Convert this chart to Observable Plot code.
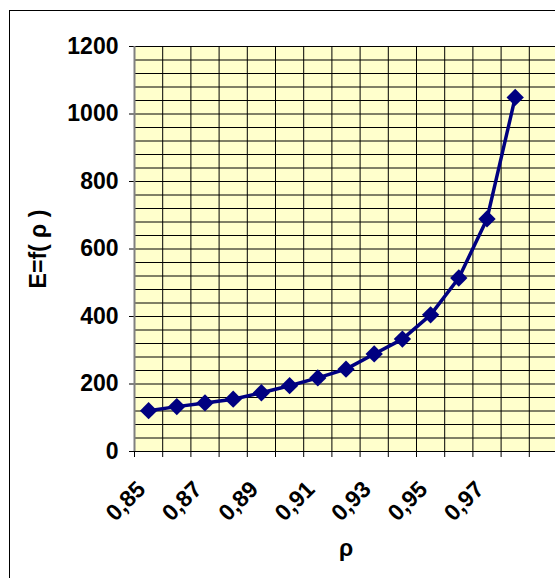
<!DOCTYPE html>
<html>
<head>
<meta charset="utf-8">
<script src="https://cdn.jsdelivr.net/npm/d3@7"></script>
<script src="https://cdn.jsdelivr.net/npm/@observablehq/plot@0.6"></script>
<style>
  body { margin: 0; background: #fff; overflow: hidden; }
  #wrap { position: relative; width: 555px; height: 578px; overflow: hidden; }
  #border { position: absolute; left: 9px; top: 10px; width: 800px; height: 800px;
            border: 1px solid #000; pointer-events: none; }
  #wrap svg { position: absolute; left: 0; top: 0; }
</style>
</head>
<body>
<div id="wrap"><div id="border"></div></div>
<script>
// Density ρ and the resulting E = f(ρ)
const rho    = [0.85, 0.86, 0.87, 0.88, 0.89, 0.90, 0.91, 0.92, 0.93, 0.94, 0.95, 0.96, 0.97, 0.98];
const energy = [121, 133, 144, 155, 174, 195, 218, 244, 289, 333, 405, 514, 689, 1049];

// Axis ticks and titles
const yTicks = [0, 200, 400, 600, 800, 1000, 1200];
const xLabelTicks = [0.85, 0.87, 0.89, 0.91, 0.93, 0.95, 0.97];
const xTitle = "ρ";
const yTitle = "E=f( ρ )";

// Category slots 0.85 … 0.99, each 0.01 wide; boundaries carry grid lines and ticks
const xDomain = [0.845, 0.995];
const slotEdges = d3.range(0, 16).map(i => +(0.845 + i * 0.01).toFixed(3));
const yGrid = d3.range(0, 1201, 40);

const data = rho.map((r, i) => ({rho: r, E: energy[i]}));
const comma = d => d.toFixed(2).replace(".", ",");

const navy = "#000080";

const chart = Plot.plot({
  width: 555,
  height: 578,
  marginLeft: 134,
  marginTop: 46,
  marginBottom: 127,
  marginRight: -2,
  style: {
    fontFamily: "'Liberation Sans', Arial, sans-serif",
    fontSize: "23px",
    fontWeight: "bold",
    color: "#000",
    background: "transparent",
    overflow: "visible"
  },
  x: {domain: xDomain, ticks: slotEdges, tickSize: 6, tickFormat: () => "", label: null},
  y: {domain: [0, 1200], ticks: yTicks, tickSize: 5, tickPadding: 11, tickFormat: d => String(d), label: null},
  marks: [
    Plot.frame({fill: "#ffffcc"}),
    Plot.ruleY(yGrid, {stroke: "#000", strokeWidth: 1}),
    Plot.ruleX(slotEdges, {stroke: "#000", strokeWidth: 1}),
    Plot.ruleX([xDomain[0]], {stroke: "#808080", strokeWidth: 2}),
    Plot.ruleY([0], {stroke: "#000", strokeWidth: 1}),
    Plot.line(data, {x: "rho", y: "E", stroke: navy, strokeWidth: 3.5}),
    Plot.dot(data, {x: "rho", y: "E", symbol: "diamond2", r: 7.8, fill: navy, stroke: null}),
    Plot.text(xLabelTicks, {
      x: d => d, frameAnchor: "bottom", dx: -7, dy: 34, rotate: -45,
      textAnchor: "end", lineAnchor: "middle", text: comma
    }),
    Plot.text([xTitle], {frameAnchor: "bottom", dy: 97, textAnchor: "middle", lineAnchor: "middle", text: d => d}),
    Plot.text([yTitle], {frameAnchor: "left", dx: -96, rotate: -90, textAnchor: "middle", lineAnchor: "middle", text: d => d})
  ]
});

document.getElementById("wrap").prepend(chart);
</script>
</body>
</html>
